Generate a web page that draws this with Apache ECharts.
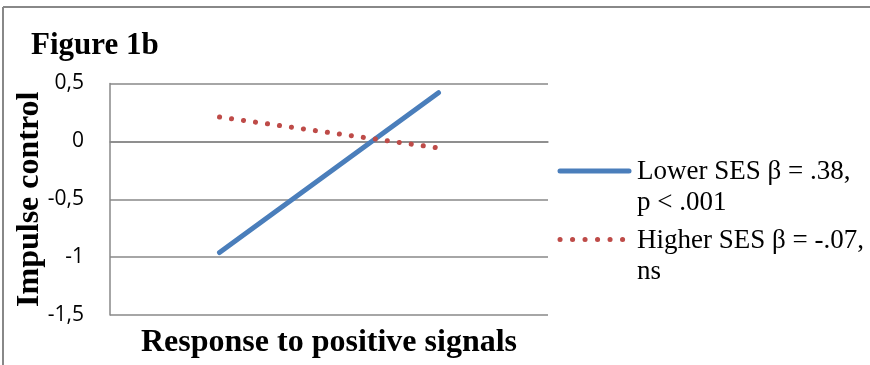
<!DOCTYPE html>
<html>
<head>
<meta charset="utf-8">
<script src="https://cdn.jsdelivr.net/npm/echarts@6/dist/echarts.min.js"></script>
<style>html,body{margin:0;padding:0;background:#fff}#c{width:870px;height:365px}</style>
</head>
<body>
<div id="c"></div>
<script>
const categories = ['Low', 'High'];
const lowerSES = [-0.96, 0.42];
const higherSES = [0.21, -0.057];
const yTicks = [-1.5, -1, -0.5, 0, 0.5];
const seriesNames = ['Lower SES \u03b2 = .38,\np < .001', 'Higher SES \u03b2 = -.07,\nns'];
const seriesColors = ['#4A7EBB', '#BE4B48'];

const chart = echarts.init(document.getElementById('c'));
const serif = '"Liberation Serif", "DejaVu Serif", serif';
const legendFont = '27px "Liberation Serif", serif';
chart.setOption({
  animation: false,
  title: {text: 'Figure 1b', left: 31, top: 30, padding: 0,
    textStyle: {fontFamily: serif, fontSize: 31, fontWeight: 'bold', color: '#000'}},
  graphic: [
    {type: 'line', shape: {x1: 3, y1: 7, x2: 870, y2: 7}, style: {stroke: '#888', lineWidth: 2}},
    {type: 'line', shape: {x1: 3, y1: 7, x2: 3, y2: 365}, style: {stroke: '#888', lineWidth: 2}},
    {type: 'line', shape: {x1: 560, y1: 171, x2: 629, y2: 171},
      style: {stroke: seriesColors[0], lineWidth: 5, lineCap: 'round'}},
    {type: 'text', x: 637, y: 156, style: {text: seriesNames[0], font: legendFont, fill: '#000', lineHeight: 31, verticalAlign: 'top'}},
    {type: 'line', shape: {x1: 560, y1: 239.5, x2: 624, y2: 239.5},
      style: {stroke: seriesColors[1], lineWidth: 5, lineCap: 'round', lineDash: [0.1, 12.4]}},
    {type: 'text', x: 637, y: 225, style: {text: seriesNames[1], font: legendFont, fill: '#000', lineHeight: 31, verticalAlign: 'top'}}
  ],
  grid: {left: 110, right: 322, top: 83.5, bottom: 50, outerBoundsMode: 'none', containLabel: false},
  xAxis: {
    type: 'category', data: categories, boundaryGap: true,
    axisLine: {lineStyle: {color: '#888', width: 1.5}},
    axisTick: {show: false}, axisLabel: {show: false},
    name: 'Response to positive signals', nameLocation: 'middle', nameGap: 12, nameMoveOverlap: false,
    nameTextStyle: {fontFamily: serif, fontSize: 32, fontWeight: 'bold', color: '#000'}
  },
  yAxis: {
    type: 'value', min: -1.5, max: 0.5, interval: 0.5,
    axisLine: {show: true, lineStyle: {color: '#888', width: 1.5}},
    axisTick: {show: false},
    splitLine: {lineStyle: {color: '#888', width: 1.5}},
    axisLabel: {margin: 26, fontFamily: '"Open Sans", sans-serif', fontSize: 21, color: '#000',
      formatter: v => String(v).replace('.', ',')},
    name: 'Impulse control', nameLocation: 'middle', nameGap: 64, nameRotate: 90, nameMoveOverlap: false,
    nameTextStyle: {fontFamily: serif, fontSize: 32, fontWeight: 'bold', color: '#000'}
  },
  series: [
    {name: seriesNames[0], type: 'line', data: lowerSES, symbol: 'none', color: seriesColors[0],
      lineStyle: {color: seriesColors[0], width: 5, cap: 'round'}},
    {name: seriesNames[1], type: 'line', data: higherSES, symbol: 'none', color: seriesColors[1],
      lineStyle: {color: seriesColors[1], width: 5, type: [0.1, 12], cap: 'round'}}
  ]
});
</script>
</body>
</html>
